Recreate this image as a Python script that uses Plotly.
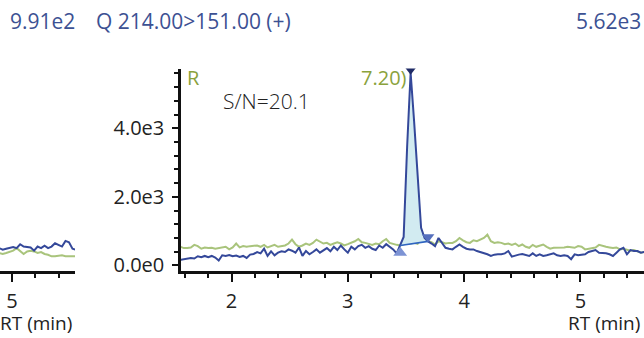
import plotly.graph_objects as go

# ---- data ----
rt_start = 1.56
rt_step = 0.03
n_points = 134
rt = [round(rt_start + rt_step * i, 2) for i in range(n_points)]

blue = [162,181,200,219,200,267,238,276,238,276,
        229,143,295,276,305,267,286,248,276,219,
        314,333,390,352,486,276,410,295,371,410,
        390,467,429,371,524,276,419,324,390,467,
        371,448,505,410,543,448,581,467,371,543,
        467,562,600,514,562,486,448,581,514,619,
        543,467,352,580,830,3460,5620,4200,2500,1100,
        800,700,638,562,800,638,514,486,467,543,
        610,543,486,467,467,419,390,371,324,276,
        314,324,324,352,419,257,295,314,333,295,
        276,352,276,324,276,295,324,352,295,276,
        295,276,181,324,295,314,324,390,419,448,
        371,371,352,324,276,371,467,514,324,448,
        419,419,371,390]

green = [543,505,505,524,600,562,486,524,505,514,
         486,505,505,543,467,524,638,524,562,543,
         562,562,581,543,600,524,562,600,543,562,
         581,638,752,619,543,581,638,600,657,752,
         695,638,657,600,638,676,638,581,619,657,
         705,771,676,657,638,600,638,619,705,771,
         657,619,600,581,620,650,640,660,630,771,
         733,705,676,610,705,676,638,657,657,705,
         800,733,676,657,733,705,752,800,895,705,
         657,676,657,619,638,600,638,562,610,543,
         514,600,543,581,610,543,486,514,514,505,
         524,543,524,514,562,543,467,486,505,524,
         600,562,543,524,505,524,467,486,448,429,
         448,419,371,390]

# left (neighbouring) panel, partially visible
left_first_index = 111
blue_left = [89,81,86,89,95,89,109,97,95,92,76,97,89,102,89,97,114,106,97,126,119,86,81]
green_left = [64,59,64,69,76,89,76,59,72,76,72,64,69,59,55,47,47,50,52,47,47,47,47]

# integrated peak
peak_start_idx = 63
peak_end_idx = 71
marker_rt = [3.45, 3.54, 3.69]
marker_int = [371, 5720, 829]
marker_symbols = ["triangle-up", "triangle-down", "triangle-down"]
marker_colors = ["#7d93d4", "#1f2b66", "#5670bd"]

x_ticks = [2, 3, 4, 5]
y_tickvals = [0, 2000, 4000]
y_ticktext = ["0.0e0", "2.0e3", "4.0e3"]

title_main = "Q 214.00>151.00 (+)"
max_main = "5.62e3"
max_left = "9.91e2"
sn_text = "S/N=20.1"
x_title = "RT (min)"

BLUE = "#34489a"
GREEN = "#a9c47c"
TITLE_BLUE = "#3c5193"
TEXT = "#222222"
FONT = "Open Sans"

W, H = 644, 338

fig = go.Figure()

# left panel traces
rt_left = rt[left_first_index:left_first_index + len(blue_left)]
fig.add_trace(go.Scatter(x=rt_left, y=green_left, mode="lines",
                         line=dict(color=GREEN, width=2), xaxis="x2", yaxis="y2"))
fig.add_trace(go.Scatter(x=rt_left, y=blue_left, mode="lines",
                         line=dict(color=BLUE, width=2), xaxis="x2", yaxis="y2"))

# main panel
fig.add_trace(go.Scatter(x=rt, y=green, mode="lines",
                         line=dict(color=GREEN, width=2)))
px = rt[peak_start_idx:peak_end_idx + 1]
py = blue[peak_start_idx:peak_end_idx + 1]
fig.add_trace(go.Scatter(x=px + [px[0]], y=py + [py[0]], mode="lines",
                         fill="toself", fillcolor="#d2ebf1",
                         line=dict(width=0, color="rgba(0,0,0,0)")))
fig.add_trace(go.Scatter(x=rt, y=blue, mode="lines",
                         line=dict(color=BLUE, width=2)))
fig.add_trace(go.Scatter(x=[px[0], px[-1]], y=[py[0], py[-1]], mode="lines",
                         line=dict(color="#2f64c0", width=1.6)))
for xr, yv, sym, col, sz in zip(marker_rt, marker_int, marker_symbols, marker_colors, [12, 11, 11]):
    fig.add_trace(go.Scatter(x=[xr], y=[yv], mode="markers",
                             marker=dict(symbol=sym, size=sz, color=col, line=dict(width=0))))

# geometry
ppm = 116.3  # px per minute
main_left_px, main_right_px = 181, 644
x0 = 1.6 - 4 / ppm
x1 = x0 + (main_right_px - main_left_px) / ppm
left_right_px = 75
lx1 = 5.0 + (left_right_px - 12) / ppm
lx0 = lx1 - left_right_px / ppm

y_bottom_px, y_top_px = 277, 70
dom_y = [(H - y_bottom_px) / H, (H - y_top_px) / H]

axis_common = dict(showgrid=False, zeroline=False, showline=True, linecolor="#111111",
                   linewidth=2.5, ticks="outside", tickcolor="#111111", tickwidth=2,
                   tickfont=dict(family=FONT, size=20, color=TEXT))

fig.update_layout(
    width=W, height=H, margin=dict(l=0, r=0, t=0, b=0),
    paper_bgcolor="white", plot_bgcolor="white", showlegend=False,
    xaxis=dict(domain=[main_left_px / W, 1], range=[x0, x1], tickvals=x_ticks,
               ticklen=8, ticklabelstandoff=2,
               minor=dict(dtick=0.2, tick0=0, ticklen=4, tickwidth=2, ticks="outside",
                          tickcolor="#111111"),
               anchor="y", **axis_common),
    yaxis=dict(domain=dom_y, range=[-171, 5743], tickvals=y_tickvals, ticktext=y_ticktext,
               ticklen=6, ticklabelstandoff=4,
               minor=dict(dtick=400, tick0=0, ticklen=4, tickwidth=2, ticks="outside",
                          tickcolor="#111111"),
               anchor="x", **axis_common),
    xaxis2=dict(domain=[0, left_right_px / W], range=[lx0, lx1], tickvals=x_ticks,
                ticklen=8, ticklabelstandoff=2,
                minor=dict(dtick=0.2, tick0=0, ticklen=4, tickwidth=2, ticks="outside",
                           tickcolor="#111111"),
                anchor="y2", **axis_common),
    yaxis2=dict(domain=dom_y, range=[-30, 1013], visible=False, anchor="x2"),
)

def ann(text, xpx, ypx, anchor, color, size, **kw):
    fig.add_annotation(text=text, x=xpx / W, y=1 - ypx / H, xref="paper", yref="paper",
                       xanchor=anchor, yanchor="middle", showarrow=False,
                       font=dict(family=FONT, size=size, color=color, **kw))

ann(max_left, 8, 21, "left", TITLE_BLUE, 21)
ann(title_main, 94, 21, "left", TITLE_BLUE, 21)
ann(max_main, 643, 21, "right", TITLE_BLUE, 21)
ann(x_title, 642, 330, "right", TEXT, 19)
ann(x_title, 74, 330, "right", TEXT, 19)
ann("R", 185, 79, "left", "#8aa23c", 20)
ann("7.20)", 409, 79, "right", "#8aa23c", 20)
ann(sn_text, 221, 103, "left", TEXT, 21, weight=300)

fig.write_html("out.html", config={"displayModeBar": False},
               post_script="document.body.style.margin='0';document.body.style.padding='0';")
